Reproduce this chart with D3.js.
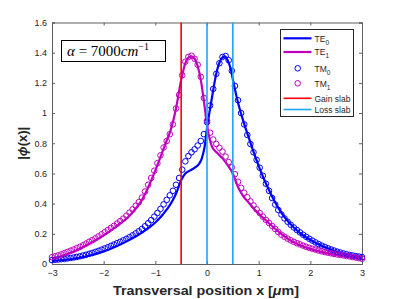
<!DOCTYPE html>
<html>
<head>
<meta charset="utf-8">
<script src="https://cdn.jsdelivr.net/npm/d3@7"></script>
<style>
    body { margin: 0; background: #fff; }
    svg { display: block; }
    .tick text { font-family: "Liberation Sans", Arial, sans-serif; font-size: 9px; fill: #262626; }
</style>
</head>
<body>
<div id="chart"></div>
<script>
// TM modes (circles), sampled every 0.06 um from -3 to 3
const tmX = d3.range(101).map(i => +(-3 + 0.06 * i).toFixed(2));
const tm0 = [
    0.026, 0.028, 0.030, 0.032, 0.034, 0.037, 0.040, 0.043, 0.047, 0.051,
    0.056, 0.061, 0.067, 0.073, 0.080, 0.087, 0.095, 0.103, 0.111, 0.120,
    0.129, 0.138, 0.147, 0.157, 0.167, 0.178, 0.190, 0.203, 0.217, 0.232,
    0.250, 0.270, 0.291, 0.314, 0.338, 0.365, 0.395, 0.425, 0.455, 0.485,
    0.525, 0.570, 0.625, 0.680, 0.715, 0.740, 0.760, 0.785, 0.815, 0.860,
    0.940, 1.050, 1.160, 1.260, 1.330, 1.372, 1.378, 1.350, 1.280, 1.180,
    1.085, 1.000, 0.925, 0.855, 0.795, 0.740, 0.690, 0.638, 0.585, 0.532,
    0.485, 0.437, 0.394, 0.358, 0.328, 0.302, 0.280, 0.260, 0.242, 0.225,
    0.209, 0.194, 0.180, 0.167, 0.155, 0.143, 0.132, 0.122, 0.113, 0.104,
    0.096, 0.089, 0.082, 0.076, 0.070, 0.065, 0.060, 0.056, 0.052, 0.049,
    0.046
];
const tm1 = [
    0.045, 0.051, 0.057, 0.064, 0.072, 0.080, 0.088, 0.096, 0.105, 0.114,
    0.124, 0.135, 0.147, 0.158, 0.170, 0.183, 0.197, 0.211, 0.225, 0.239,
    0.253, 0.268, 0.284, 0.301, 0.320, 0.340, 0.362, 0.386, 0.410, 0.440,
    0.480, 0.525, 0.570, 0.618, 0.668, 0.720, 0.772, 0.815, 0.860, 0.925,
    1.030, 1.120, 1.250, 1.340, 1.372, 1.380, 1.360, 1.320, 1.240, 1.100,
    0.950, 0.870, 0.825, 0.795, 0.770, 0.745, 0.712, 0.675, 0.640, 0.595,
    0.545, 0.505, 0.472, 0.442, 0.415, 0.388, 0.362, 0.338, 0.314, 0.292,
    0.272, 0.252, 0.232, 0.212, 0.194, 0.180, 0.168, 0.157, 0.147, 0.138,
    0.130, 0.122, 0.114, 0.107, 0.101, 0.095, 0.089, 0.084, 0.079, 0.075,
    0.071, 0.067, 0.063, 0.060, 0.057, 0.053, 0.050, 0.046, 0.043, 0.039,
    0.035
];

// TE modes (solid lines)
const te0X = [-3, -2.75, -2.5, -2.25, -2, -1.75, -1.5, -1.25, -1, -0.85, -0.7, -0.6, -0.5, -0.42, -0.35, -0.25, -0.15,
    -0.1, -0.05, 0, 0.05, 0.1, 0.15, 0.2, 0.28, 0.34, 0.4, 0.46, 0.52, 0.6, 0.7, 0.8, 0.9, 1, 1.1, 1.2, 1.3, 1.4, 1.5,
    1.6, 1.8, 2, 2.2, 2.4, 2.6, 2.8, 3];
const te0 = [0.020, 0.028, 0.040, 0.058, 0.083, 0.118, 0.160, 0.210, 0.275, 0.330, 0.400, 0.465, 0.555, 0.600, 0.615,
    0.635, 0.665, 0.700, 0.770, 0.900, 1.010, 1.110, 1.210, 1.290, 1.360, 1.375, 1.350, 1.290, 1.190, 1.070, 0.950,
    0.845, 0.745, 0.650, 0.565, 0.490, 0.420, 0.360, 0.310, 0.270, 0.205, 0.160, 0.124, 0.095, 0.073, 0.057, 0.043];
const te1X = [-3, -2.75, -2.5, -2.25, -2, -1.75, -1.5, -1.25, -1, -0.9, -0.8, -0.7, -0.6, -0.5, -0.42, -0.35, -0.3,
    -0.24, -0.18, -0.12, -0.06, 0, 0.05, 0.1, 0.2, 0.3, 0.4, 0.5, 0.6, 0.7, 0.8, 0.9, 1, 1.2, 1.4, 1.6, 1.8, 2, 2.25,
    2.5, 2.75, 3];
const te1 = [0.035, 0.060, 0.095, 0.140, 0.190, 0.250, 0.320, 0.430, 0.620, 0.710, 0.800, 0.890, 1.030, 1.220, 1.330,
    1.370, 1.375, 1.360, 1.310, 1.220, 1.080, 0.920, 0.830, 0.775, 0.735, 0.700, 0.655, 0.600, 0.510, 0.450, 0.410,
    0.370, 0.335, 0.270, 0.210, 0.160, 0.125, 0.100, 0.077, 0.060, 0.045, 0.032];

const gainSlab = [-0.5];
const lossSlab = [0, 0.5];
const xTicks = [-3, -2, -1, 0, 1, 2, 3];
const yTicks = [0, 0.2, 0.4, 0.6, 0.8, 1, 1.2, 1.4, 1.6];

const width = 399, height = 299;
const margin = {top: 22.5, right: 37, bottom: 35, left: 52};
const colors = {te0: '#0000ff', te1: '#bf00bf', gain: '#ff0000', loss: '#1aa6f5', axis: '#5f5f5f'};

const svg = d3.select('#chart').append('svg')
    .attr('width', width)
    .attr('height', height);

const xScale = d3.scaleLinear().domain([-3, 3]).range([margin.left, width - margin.right]);
const yScale = d3.scaleLinear().domain([0, 1.6]).range([height - margin.bottom, margin.top]);

// axes on all four sides, ticks pointing inward (matlab box)
const gX = svg.append('g')
    .attr('transform', `translate(0,${height - margin.bottom})`)
    .call(d3.axisBottom(xScale).tickValues(xTicks).tickSize(-3).tickPadding(6).tickFormat(d3.format('d')));
const gXTop = svg.append('g')
    .attr('transform', `translate(0,${margin.top})`)
    .call(d3.axisTop(xScale).tickValues(xTicks).tickSize(-3).tickFormat(''));
const gY = svg.append('g')
    .attr('transform', `translate(${margin.left},0)`)
    .call(d3.axisLeft(yScale).tickValues(yTicks).tickSize(-3).tickPadding(5).tickFormat(d => d3.format('~g')(d)));
const gYRight = svg.append('g')
    .attr('transform', `translate(${width - margin.right},0)`)
    .call(d3.axisRight(yScale).tickValues(yTicks).tickSize(-3).tickFormat(''));

[gX, gXTop, gY, gYRight].forEach(g => {
    g.select('.domain').attr('stroke', colors.axis).attr('stroke-width', 1);
    g.selectAll('.tick line').attr('stroke', colors.axis);
});

const plot = svg.append('g');

const line = d3.line()
    .x(d => xScale(d[0]))
    .y(d => yScale(d[1]))
    .curve(d3.curveMonotoneX);

plot.append('path')
    .datum(te0X.map((x, i) => [x, te0[i]]))
    .attr('d', line)
    .attr('fill', 'none')
    .attr('stroke', colors.te0)
    .attr('stroke-width', 2.2);

plot.append('path')
    .datum(te1X.map((x, i) => [x, te1[i]]))
    .attr('d', line)
    .attr('fill', 'none')
    .attr('stroke', colors.te1)
    .attr('stroke-width', 2.2);

function drawCircles(values, color) {
    plot.append('g')
        .selectAll('circle')
        .data(values)
        .enter()
        .append('circle')
        .attr('cx', (d, i) => xScale(tmX[i]))
        .attr('cy', d => yScale(d))
        .attr('r', 2.8)
        .attr('fill', 'none')
        .attr('stroke', color)
        .attr('stroke-width', 1);
}
drawCircles(tm0, colors.te0);
drawCircles(tm1, colors.te1);

function drawSlabs(values, color) {
    plot.selectAll(null)
        .data(values)
        .enter()
        .append('line')
        .attr('x1', d => xScale(d))
        .attr('x2', d => xScale(d))
        .attr('y1', yScale(0))
        .attr('y2', yScale(1.6))
        .attr('stroke', color)
        .attr('stroke-width', 1.6);
}
drawSlabs(gainSlab, colors.gain);
drawSlabs(lossSlab, colors.loss);

// axis titles
svg.append('text')
    .attr('x', 113)
    .attr('y', 295)
    .attr('textLength', 186)
    .attr('lengthAdjust', 'spacingAndGlyphs')
    .style('font-family', '"Liberation Sans", Arial, sans-serif')
    .style('font-size', '13px')
    .style('font-weight', 'bold')
    .attr('fill', '#262626')
    .call(t => {
        t.append('tspan').text('Transversal position x [');
        t.append('tspan').style('font-style', 'italic').text('μ');
        t.append('tspan').text('m]');
    });

svg.append('text')
    .attr('transform', `translate(27,${yScale(0.8)}) rotate(-90)`)
    .attr('text-anchor', 'middle')
    .style('font-family', '"Liberation Sans", Arial, sans-serif')
    .style('font-size', '13px')
    .style('font-weight', 'bold')
    .attr('fill', '#262626')
    .call(t => {
        t.append('tspan').text('|');
        t.append('tspan').style('font-style', 'italic').text('ϕ');
        t.append('tspan').text('(x)|');
    });

// annotation box
svg.append('rect')
    .attr('x', 61.5).attr('y', 40.5)
    .attr('width', 104).attr('height', 21)
    .attr('fill', '#fff').attr('stroke', '#000').attr('stroke-width', 1);

svg.append('text')
    .attr('x', 67)
    .attr('y', 56)
    .style('font-family', '"Liberation Serif", "DejaVu Serif", serif')
    .style('font-size', '15px')
    .attr('fill', '#000')
    .call(t => {
        t.append('tspan').style('font-style', 'italic').text('α');
        t.append('tspan').text(' = 7000');
        t.append('tspan').style('font-style', 'italic').text('cm');
        t.append('tspan').attr('dy', -6).style('font-size', '10px').text('−1');
    });

// legend
const legendItems = [
    {label: 'TE', sub: '0', color: colors.te0, type: 'line', y: 38.3, w: 2.2},
    {label: 'TE', sub: '1', color: colors.te1, type: 'line', y: 52, w: 2.2},
    {label: 'TM', sub: '0', color: colors.te0, type: 'circle', y: 68.3},
    {label: 'TM', sub: '1', color: colors.te1, type: 'circle', y: 83.3},
    {label: 'Gain slab', color: colors.gain, type: 'line', y: 98.3, w: 1.6},
    {label: 'Loss slab', color: colors.loss, type: 'line', y: 109.5, w: 1.6}
];

const legend = svg.append('g');
legend.append('rect')
    .attr('x', 280.5).attr('y', 29.5)
    .attr('width', 73).attr('height', 87)
    .attr('fill', '#fff').attr('stroke', '#262626').attr('stroke-width', 1);

legendItems.forEach(item => {
    if (item.type === 'line') {
        legend.append('line')
            .attr('x1', 283.5).attr('x2', 311.5)
            .attr('y1', item.y).attr('y2', item.y)
            .attr('stroke', item.color).attr('stroke-width', item.w);
    } else {
        legend.append('circle')
            .attr('cx', 297.7).attr('cy', item.y).attr('r', 2.8)
            .attr('fill', 'none').attr('stroke', item.color).attr('stroke-width', 1);
    }
    const txt = legend.append('text')
        .attr('x', 314.5)
        .attr('y', item.y + 3.2)
        .style('font-family', '"Liberation Sans", Arial, sans-serif')
        .style('font-size', '8.5px')
        .attr('fill', '#262626');
    txt.append('tspan').text(item.label);
    if (item.sub) txt.append('tspan').attr('dy', 3).style('font-size', '6.5px').text(item.sub);
});
</script>
</body>
</html>
